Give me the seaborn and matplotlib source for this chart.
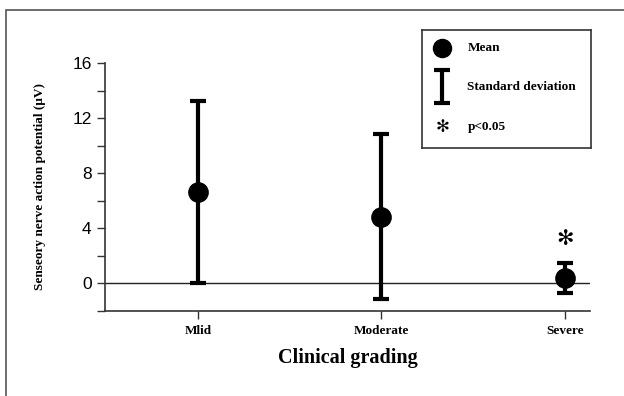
import matplotlib
matplotlib.use("Agg")
import matplotlib.pyplot as plt
import matplotlib.patches as mpatches
from matplotlib.ticker import MultipleLocator
import seaborn as sns
import pandas as pd

# data
grades = ["Mlid", "Moderate", "Severe"]
means = [6.65, 4.85, 0.4]
sds = [6.6, 6.0, 1.1]
significant = [False, False, True]

df = pd.DataFrame({"grade": grades, "mean": means, "sd": sds})
df["pos"] = range(len(df))

sns.set_style("ticks")
plt.rcParams.update({"text.color": "black", "axes.labelcolor": "black",
                     "xtick.labelcolor": "black", "ytick.labelcolor": "black"})
serif = ["Liberation Serif", "DejaVu Serif"]

fig = plt.figure(figsize=(6.24, 3.96), dpi=100)
ax = fig.add_axes([0.168, 0.215, 0.778, 0.626])

# sd bars then mean dots
ax.errorbar(df["pos"], df["mean"], yerr=df["sd"], fmt="none", ecolor="black",
            elinewidth=3, capsize=6, capthick=3, zorder=3)
sns.scatterplot(data=df, x="pos", y="mean", ax=ax, color="black", s=190,
                edgecolor="black", zorder=4, legend=False)

for p, m, s, sig in zip(df["pos"], df["mean"], df["sd"], significant):
    if sig:
        ax.text(p, m + s + 1.0, "\u273b", ha="center", va="bottom",
                fontsize=15, family="DejaVu Sans", color="black")

ax.axhline(0, color="#222222", lw=1, zorder=2)

ax.set_xlim(-0.51, 2.14)
ax.set_ylim(-2, 16)
ax.yaxis.set_major_locator(MultipleLocator(4))
ax.yaxis.set_minor_locator(MultipleLocator(2))
ax.set_xticks(df["pos"])
ax.set_xticklabels(grades, family=serif, fontweight="bold", fontsize=9.5)
for lab in ax.get_yticklabels():
    lab.set_family(["Liberation Sans", "DejaVu Sans"])
    lab.set_fontsize(12.5)
ax.tick_params(axis="both", which="both", direction="out", length=6,
               width=1, color="#333333")
ax.tick_params(axis="x", pad=4)
sns.despine(ax=ax)
for sp in ["left", "bottom"]:
    ax.spines[sp].set_color("#333333")
    ax.spines[sp].set_linewidth(1.2)

ax.set_xlabel("Clinical grading", family=serif, fontweight="bold",
              fontsize=14.5, labelpad=8)
ax.set_ylabel("Senseory nerve action potential (\u03bcV)", family=serif,
              fontweight="bold", fontsize=9.5, labelpad=19)

# legend box
lg = fig.add_axes([0.676, 0.626, 0.271, 0.298])
lg.set_xlim(0, 1)
lg.set_ylim(0, 1)
lg.set_xticks([])
lg.set_yticks([])
for sp in lg.spines.values():
    sp.set_color("#333333")
    sp.set_linewidth(1.2)
lg.plot([0.12], [0.85], "o", color="black", ms=13)
lg.errorbar([0.12], [0.52], yerr=[0.14], fmt="none", ecolor="black",
            elinewidth=3, capsize=6, capthick=3)
lg.text(0.12, 0.18, "\u273b", ha="center", va="center", fontsize=12,
        family="DejaVu Sans")
for yy, t in zip([0.85, 0.52, 0.18], ["Mean", "Standard deviation", "p<0.05"]):
    lg.text(0.27, yy, t, ha="left", va="center", family=serif,
            fontweight="bold", fontsize=9.5)

# outer frame of the figure
fig.patches.append(mpatches.Rectangle((0.009, -0.01), 1.0, 0.985,
                                      transform=fig.transFigure, fill=False,
                                      edgecolor="#555555", lw=1.2))

fig.savefig("out.png", dpi=100)
